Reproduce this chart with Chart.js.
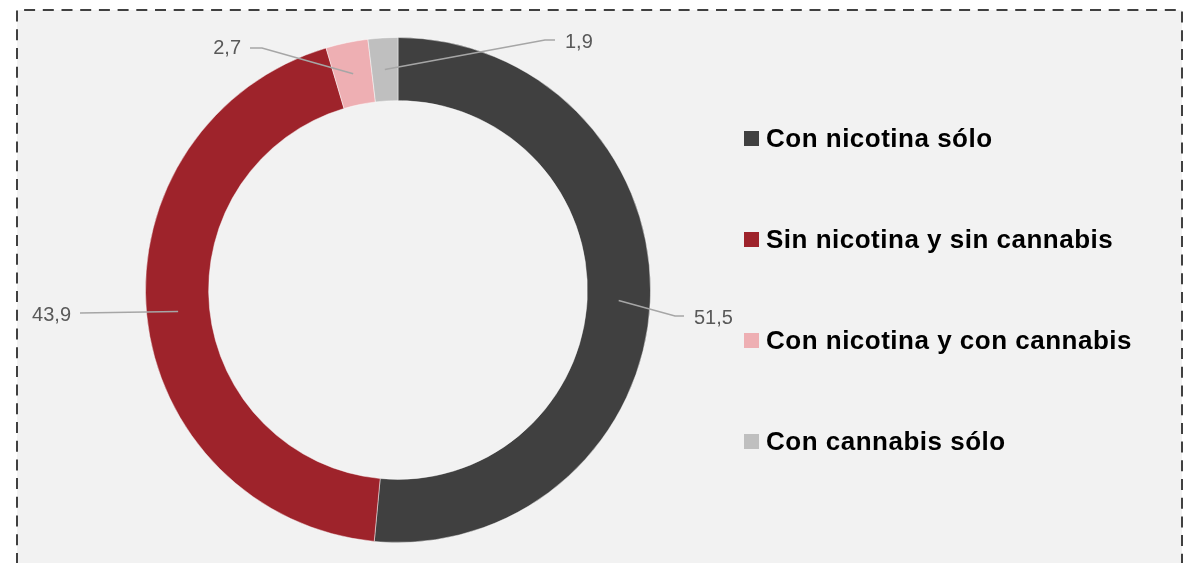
<!DOCTYPE html>
<html>
<head>
<meta charset="utf-8">
<script src="https://cdn.jsdelivr.net/npm/chart.js@4"></script>
<style>
  html, body { margin: 0; padding: 0; background: #ffffff; }
  #wrap { width: 1183px; height: 563px; position: relative; overflow: hidden; }
  canvas { display: block; }
</style>
</head>
<body>
<div id="wrap"><canvas id="c" width="1183" height="563"></canvas></div>
<script>
// ---- Data ----
const categories = ['Con nicotina sólo', 'Sin nicotina y sin cannabis', 'Con nicotina y con cannabis', 'Con cannabis sólo'];
const values = [51.5, 43.9, 2.7, 1.9];
const valueLabels = ['51,5', '43,9', '2,7', '1,9'];

// ---- Styles ----
const sliceColors = ['#404040', '#9E232B', '#EEAFB3', '#BFBFBF'];

// leader-line layout (offsets from the doughnut centre, px): elbow, end, text side
const labelLayout = [
  { elbow: [277, 26],   end: [286, 26],   side: 'left',  dy: 2 },
  { elbow: [-318, 23],  end: [-318, 23],  side: 'right', dy: 2 },
  { elbow: [-136, -242], end: [-148, -242], side: 'right', dy: 0 },
  { elbow: [147, -250], end: [157, -250], side: 'left',  dy: 2 }
];

const frameBg = {
  id: 'frameBg',
  beforeDraw(chart) {
    const ctx = chart.ctx;
    ctx.save();
    ctx.fillStyle = '#ffffff';
    ctx.fillRect(0, 0, chart.width, chart.height);
    ctx.fillStyle = '#F2F2F2';
    ctx.fillRect(17, 10, 1165, 600);
    ctx.strokeStyle = '#404040';
    ctx.lineWidth = 2;
    ctx.setLineDash([11, 7.7]);
    ctx.beginPath();
    ctx.moveTo(17, 620);
    ctx.lineTo(17, 10);
    ctx.lineTo(1182, 10);
    ctx.lineTo(1182, 620);
    ctx.stroke();
    ctx.restore();
  }
};

const leaderLabels = {
  id: 'leaderLabels',
  afterDatasetsDraw(chart) {
    const ctx = chart.ctx;
    const meta = chart.getDatasetMeta(0);
    ctx.save();
    meta.data.forEach((arc, i) => {
      const p = arc.getProps(['x', 'y', 'startAngle', 'endAngle', 'innerRadius', 'outerRadius'], true);
      const mid = (p.startAngle + p.endAngle) / 2;
      const r = (p.innerRadius + p.outerRadius) / 2;
      const sx = p.x + Math.cos(mid) * r;
      const sy = p.y + Math.sin(mid) * r;
      const L = labelLayout[i];
      const ex = p.x + L.elbow[0], ey = p.y + L.elbow[1];
      const fx = p.x + L.end[0], fy = p.y + L.end[1];
      ctx.strokeStyle = '#A6A6A6';
      ctx.lineWidth = 1.6;
      ctx.beginPath();
      ctx.moveTo(sx, sy);
      ctx.lineTo(ex, ey);
      ctx.lineTo(fx, fy);
      ctx.stroke();
      ctx.fillStyle = '#595959';
      ctx.font = '20px "Liberation Sans", Arial, sans-serif';
      ctx.textBaseline = 'middle';
      if (L.side === 'left') {
        ctx.textAlign = 'left';
        ctx.fillText(valueLabels[i], fx + 10, fy + L.dy);
      } else {
        ctx.textAlign = 'right';
        ctx.fillText(valueLabels[i], fx - 9, fy + L.dy);
      }
    });
    ctx.restore();
  }
};

const sideLegend = {
  id: 'sideLegend',
  afterDraw(chart) {
    const ctx = chart.ctx;
    const labels = chart.data.labels;
    const cols = chart.data.datasets[0].backgroundColor;
    ctx.save();
    const x0 = 744, y0 = 138.5, step = 101, box = 15;
    labels.forEach((lab, i) => {
      const cy = y0 + i * step;
      ctx.fillStyle = cols[i];
      ctx.fillRect(x0, cy - box / 2, box, box);
      ctx.fillStyle = '#000000';
      ctx.font = 'bold 26px "Liberation Sans", Arial, sans-serif';
      if ('letterSpacing' in ctx) ctx.letterSpacing = '0.5px';
      ctx.textAlign = 'left';
      ctx.textBaseline = 'middle';
      ctx.fillText(lab, x0 + 22, cy + 1);
    });
    ctx.restore();
  }
};

new Chart(document.getElementById('c'), {
  type: 'doughnut',
  data: {
    labels: categories,
    datasets: [{
      data: values,
      backgroundColor: sliceColors,
      borderColor: 'rgba(255,255,255,0.45)',
      borderWidth: 1,
      hoverOffset: 0
    }]
  },
  options: {
    responsive: false,
    animation: false,
    cutout: '75%',
    layout: { padding: { top: 37, bottom: 20, left: 145, right: 532 } },
    plugins: {
      legend: { display: false },
      tooltip: { enabled: false }
    }
  },
  plugins: [frameBg, leaderLabels, sideLegend]
});
</script>
</body>
</html>
